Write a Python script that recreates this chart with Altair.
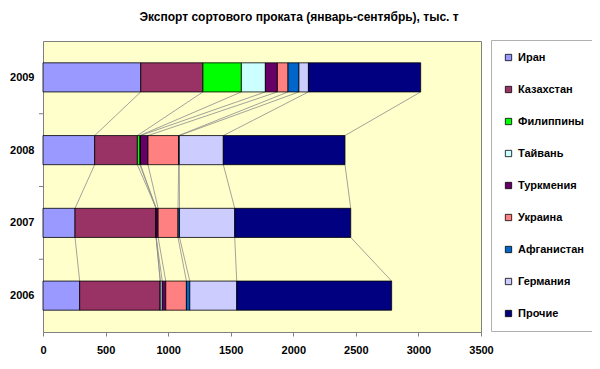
import altair as alt
import pandas as pd

years = ["2006", "2007", "2008", "2009"]  # bottom -> top
series = ["Иран", "Казахстан", "Филиппины", "Тайвань", "Туркмения",
          "Украина", "Афганистан", "Германия", "Прочие"]
colors = ["#9999FF", "#993366", "#00FF00", "#CCFFFF", "#660066",
          "#FF8080", "#0066CC", "#CCCCFF", "#000080"]

iran = [293, 256, 413, 781]
kazakhstan = [644, 648, 341, 497]
philippines = [0, 0, 20, 307]
taiwan = [16, 0, 5, 192]
turkmenia = [28, 16, 60, 96]
ukraine = [165, 159, 245, 85]
afghanistan = [27, 12, 5, 87]
germany = [375, 441, 352, 76]
others = [1238, 927, 972, 897]

values = [iran, kazakhstan, philippines, taiwan, turkmenia,
          ukraine, afghanistan, germany, others]
x_ticks = [0, 500, 1000, 1500, 2000, 2500, 3000, 3500]

BAR_LO, BAR_HI = 0.3, 0.7

# bar segments
rows = []
ends = {}
for i, yr in enumerate(years):
    cum = 0
    for k, s in enumerate(series):
        v = values[k][i]
        rows.append({"year": yr, "series": s, "order": k, "value": v,
                     "start": cum, "end": cum + v,
                     "y0": i + BAR_LO, "y1": i + BAR_HI})
        cum += v
        ends[(i, k)] = cum
bars_df = pd.DataFrame(rows)

# series lines between adjacent bars
lines = []
for i in range(len(years) - 1):
    for k in range(len(series)):
        lines.append({"xa": ends[(i + 1, k)], "ya": i + 1 + BAR_LO,
                      "xb": ends[(i, k)], "yb": i + BAR_HI})
lines_df = pd.DataFrame(lines)

# category boundary ticks
ticks_df = pd.DataFrame({"b": list(range(1, len(years)))})

FONT = "Liberation Sans"
label_expr = "[" + ",".join("'%s'" % y for y in years) + "][datum.value - 0.5]"

xscale = alt.Scale(domain=[0, 3500], nice=False)
yscale = alt.Scale(domain=[0, len(years)], nice=False, zero=False)

series_lines = alt.Chart(lines_df).mark_rule(color="#8c8c8c", strokeWidth=0.8).encode(
    x=alt.X("xa:Q", scale=xscale),
    x2="xb:Q",
    y=alt.Y("ya:Q", scale=yscale),
    y2="yb:Q",
)

bars = alt.Chart(bars_df).mark_bar(stroke="#000000", strokeWidth=0.8).encode(
    x=alt.X("start:Q", scale=xscale, title=None,
            axis=alt.Axis(values=x_ticks, format="d", grid=False, domain=False,
                          tickColor="#808080", tickSize=4,
                          labelFont=FONT, labelFontSize=11,
                          labelFontWeight="bold", labelColor="#000000",
                          labelPadding=8, labelFlush=False)),
    x2="end:Q",
    y=alt.Y("y0:Q", scale=yscale, title=None,
            axis=alt.Axis(values=[i + 0.5 for i in range(len(years))],
                          labelExpr=label_expr, grid=False, domain=False,
                          ticks=False, labelFont=FONT, labelFontSize=11,
                          labelFontWeight="bold", labelColor="#000000",
                          labelPadding=9)),
    y2="y1:Q",
    color=alt.Color("series:N", scale=alt.Scale(domain=series, range=colors),
                    legend=alt.Legend(title=None, orient="none",
                                      legendX=448, legendY=-1,
                                      direction="vertical",
                                      symbolType="square", symbolSize=40,
                                      symbolStrokeColor="#000000",
                                      symbolStrokeWidth=0.8,
                                      symbolOpacity=1,
                                      labelFont=FONT, labelFontSize=11,
                                      labelFontWeight="bold",
                                      labelColor="#000000", labelOffset=4,
                                      rowPadding=20, padding=12,
                                      strokeColor="#b0b0b0",
                                      fillColor="#FFFFFF")),
    order=alt.Order("order:Q"),
)

tick_rules = alt.Chart(ticks_df).mark_rule(color="#808080", strokeWidth=1).encode(
    x=alt.value(-4), x2=alt.value(0),
    y=alt.Y("b:Q", scale=yscale),
)

chart = alt.layer(series_lines, bars, tick_rules).properties(
    width=438, height=291,
    autosize=alt.AutoSizeParams(type="none"),
    padding={"left": 35, "top": 33, "right": 111, "bottom": 29},
    title=alt.TitleParams("Экспорт сортового проката (январь-сентябрь), тыс. т",
                          font=FONT, fontSize=12, fontWeight="bold",
                          color="#000000", anchor="middle", dx=37, offset=16),
).configure_view(fill="#FFFFCC", stroke="#808080", strokeWidth=1)

chart.save("out.html", embed_options={"renderer": "svg", "actions": False})
